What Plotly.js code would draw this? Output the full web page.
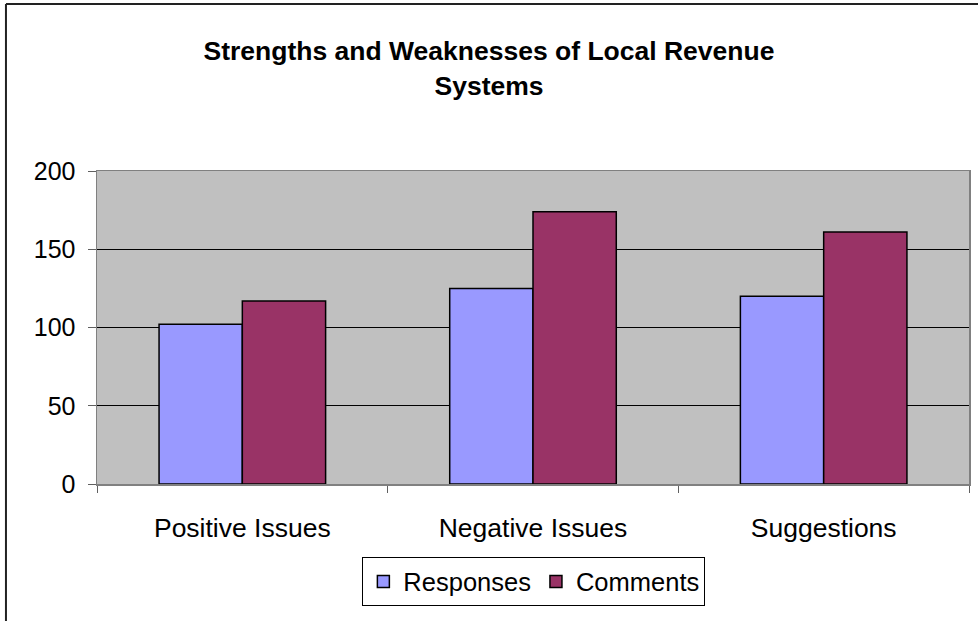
<!DOCTYPE html>
<html>
<head>
<meta charset="utf-8">
<script src="https://cdn.plot.ly/plotly-3.0.1.min.js"></script>
<style>
  html, body { margin: 0; padding: 0; background: #ffffff; }
  #chart { width: 978px; height: 621px; }
</style>
</head>
<body>
<div id="chart"></div>
<script>
const categories = ["Positive Issues", "Negative Issues", "Suggestions"];
const responses = [102, 125, 120];
const comments = [117, 174, 161];
const seriesNames = ["Responses", "Comments"];
const yTickValues = [0, 50, 100, 150, 200];

const font = "Arial, 'Liberation Sans', sans-serif";

const traces = [
  {
    type: "bar",
    name: seriesNames[0],
    x: categories,
    y: responses,
    marker: { color: "#9999FF", line: { color: "#000000", width: 1.5 } },
    hoverinfo: "x+y+name"
  },
  {
    type: "bar",
    name: seriesNames[1],
    x: categories,
    y: comments,
    marker: { color: "#993366", line: { color: "#000000", width: 1.5 } },
    hoverinfo: "x+y+name"
  }
];

const layout = {
  width: 978,
  height: 621,
  margin: { l: 97, r: 9, t: 171, b: 137, pad: 0 },
  paper_bgcolor: "#ffffff",
  plot_bgcolor: "#C0C0C0",
  font: { family: font, size: 25, color: "#000000" },
  title: {
    text: "<b>Strengths and Weaknesses of Local Revenue<br>Systems</b>",
    font: { family: font, size: 26.5, color: "#000000" },
    xref: "container", x: 0.5, xanchor: "center",
    yref: "container", y: 0.903, yanchor: "middle"
  },
  barmode: "group",
  bargap: 0.427,
  bargroupgap: 0,
  xaxis: {
    type: "category",
    tickson: "boundaries",
    ticks: "outside",
    ticklen: 7,
    tickcolor: "#606060",
    tickwidth: 1,
    showline: true,
    linecolor: "#808080",
    linewidth: 1.5,
    mirror: true,
    showgrid: false,
    ticklabelstandoff: 20,
    tickfont: { family: font, size: 26.5, color: "#000000" }
  },
  yaxis: {
    range: [0, 200],
    tickvals: yTickValues,
    ticks: "outside",
    ticklen: 8,
    tickcolor: "#606060",
    tickwidth: 1,
    showline: true,
    linecolor: "#808080",
    linewidth: 1.5,
    mirror: true,
    showgrid: true,
    gridcolor: "#000000",
    gridwidth: 1,
    zeroline: false,
    ticklabelstandoff: 7,
    tickfont: { family: font, size: 25, color: "#000000" }
  },
  legend: {
    orientation: "h",
    x: 0.501, xanchor: "center",
    y: -0.313, yanchor: "middle",
    bordercolor: "#000000",
    borderwidth: 1,
    bgcolor: "#ffffff",
    font: { family: font, size: 25.5, color: "#000000" },
    itemwidth: 30,
    tracegroupgap: 0,
    traceorder: "normal"
  },
  shapes: [
    {
      type: "line", xref: "paper", yref: "paper", layer: "above",
      x0: -0.1044, x1: 1.2, y0: 1.5335, y1: 1.5335,
      line: { color: "#222222", width: 2 }
    },
    {
      type: "line", xref: "paper", yref: "paper", layer: "above",
      x0: -0.1044, x1: -0.1044, y0: 1.5335, y1: -0.6,
      line: { color: "#222222", width: 2 }
    }
  ],
  showlegend: true
};

Plotly.newPlot("chart", traces, layout, { displayModeBar: false, staticPlot: true });
</script>
</body>
</html>
